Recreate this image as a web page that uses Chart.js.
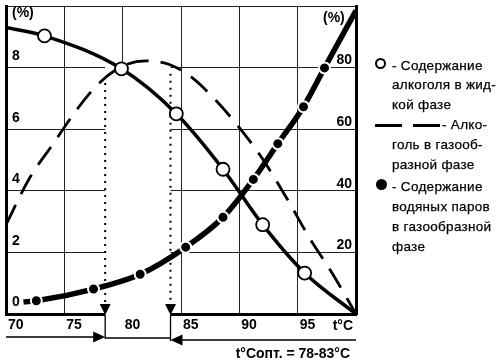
<!DOCTYPE html>
<html>
<head>
<meta charset="utf-8">
<script src="https://cdn.jsdelivr.net/npm/chart.js@4.4.1/dist/chart.umd.min.js"></script>
<style>
  body { margin: 0; background: #fff; }
  #wrap { position: relative; width: 500px; height: 363px; }
  #wrap canvas { position: absolute; left: 0; top: 0; }
  .t { position: absolute; font-family: "Liberation Sans", Arial, sans-serif; font-size: 13.5px; line-height: 20px; color: #000; white-space: nowrap; letter-spacing: 0.3px; -webkit-text-stroke: 0.25px #000; }
  .b { font-weight: bold; font-size: 14px; letter-spacing: 0; -webkit-text-stroke: 0; }
  .sym { position: absolute; box-sizing: border-box; }
</style>
</head>
<body>
<div id="wrap">
  <canvas id="grafico" width="500" height="363"></canvas>

  <div class="t b" style="left:12px;top:2px">(%)</div>
  <div class="t b" style="left:323px;top:7px">(%)</div>
  <div class="t b" style="right:147px;top:315px">t°C</div>
  <div class="t b" style="right:150px;top:343px">t°Сопт. = 78-83°С</div>

  <span class="sym" style="left:375px;top:58px;width:11px;height:11px;border:2px solid #000;border-radius:50%"></span>
  <div class="t" style="left:392px;top:56px">- Содержание</div>
  <div class="t" style="left:392px;top:75px">алкоголя в жид-</div>
  <div class="t" style="left:392px;top:95px">кой фазе</div>

  <span class="sym" style="left:375px;top:124px;width:27px;height:3px;background:#000"></span>
  <span class="sym" style="left:413px;top:124px;width:27px;height:3px;background:#000"></span>
  <div class="t" style="left:442px;top:115px">- Алко-</div>
  <div class="t" style="left:392px;top:135px">голь в газооб-</div>
  <div class="t" style="left:392px;top:155px">разной фазе</div>

  <span class="sym" style="left:376px;top:179px;width:11px;height:11px;background:#000;border-radius:50%"></span>
  <div class="t" style="left:392px;top:177px">- Содержание</div>
  <div class="t" style="left:392px;top:197px">водяных паров</div>
  <div class="t" style="left:392px;top:217px">в газообразной</div>
  <div class="t" style="left:392px;top:237px">фазе</div>
</div>

<script>
// температура, °C
const tMin = 70;
const tMax = 100;

// алкоголь в жидкой фазе (%, левая шкала)
const liquidT = [70, 73.3, 79.9, 84.6, 88.6, 92.0, 95.6, 100];
const liquidPct = [9.3, 9.03, 7.96, 6.5, 4.7, 2.9, 1.33, 0];

// алкоголь в газообразной фазе (%, левая шкала)
const gasT = [70, 72, 74, 76, 78, 80, 82, 84, 86, 88, 90, 92, 94, 96, 98, 100];
const gasPct = [2.9, 4.4, 5.5, 6.6, 7.5, 8.05, 8.22, 8.1, 7.66, 6.93, 6.05, 5.03, 3.8, 2.48, 1.3, 0];

// водяные пары в газообразной фазе (%, правая шкала)
const vaporT = [71.5, 72.6, 77.5, 81.5, 85.4, 88.6, 91.2, 93.3, 95.5, 97.3, 100];
const vaporPct = [3.9, 4.3, 8.1, 12.9, 21.7, 31.4, 43.7, 55.3, 67.3, 79.9, 98.5];

// оптимальная зона
const tOptLow = 78.5;
const tOptHigh = 84.1;
const optTopLow = 7.5;
const optTopHigh = 7.8;

const toPoints = (xs, ys) => xs.map((x, i) => ({ x: x, y: ys[i] }));
const edgeRadius = (len, r) => (ctx) => (ctx.dataIndex === 0 || ctx.dataIndex === len - 1 ? 0 : r);

const tickFont = { family: "Liberation Sans", size: 14, weight: "bold" };

function fixScale(w, h) {
  return (scale) => {
    if (w !== null) scale.width = w;
    if (h !== null) scale.height = h;
    scale.paddingTop = 0;
    scale.paddingBottom = 0;
    scale.paddingLeft = 0;
    scale.paddingRight = 0;
  };
}

const zonaPlugin = {
  id: "zona",
  beforeDatasetsDraw(chart) {
    const { ctx, chartArea, scales } = chart;
    const x1 = scales.x.getPixelForValue(tOptLow);
    const x2 = scales.x.getPixelForValue(tOptHigh);
    const yTop = scales.y.getPixelForValue(8) - 1.5;
    const yb = chartArea.bottom;

    ctx.save();
    ctx.fillStyle = "#fff";
    ctx.fillRect(x1, yTop, x2 - x1, yb + 4 - yTop);

    // пунктир
    ctx.strokeStyle = "#000";
    ctx.lineWidth = 2;
    ctx.setLineDash([2, 5]);
    ctx.beginPath();
    ctx.moveTo(x1, scales.y.getPixelForValue(optTopLow));
    ctx.lineTo(x1, yb - 10);
    ctx.moveTo(x2, scales.y.getPixelForValue(optTopHigh));
    ctx.lineTo(x2, yb - 10);
    ctx.stroke();
    ctx.setLineDash([]);

    // треугольники
    ctx.fillStyle = "#000";
    [x1, x2].forEach((x) => {
      ctx.beginPath();
      ctx.moveTo(x - 5.5, yb - 10);
      ctx.lineTo(x + 5.5, yb - 10);
      ctx.lineTo(x, yb + 1);
      ctx.closePath();
      ctx.fill();
    });
    ctx.restore();
  },
  afterDraw(chart) {
    const { ctx, chartArea, scales } = chart;
    const x1 = scales.x.getPixelForValue(tOptLow);
    const x2 = scales.x.getPixelForValue(tOptHigh);
    const yb = chartArea.bottom;

    ctx.save();
    ctx.strokeStyle = "#000";
    ctx.fillStyle = "#000";
    ctx.lineWidth = 1.3;
    ctx.beginPath();
    ctx.moveTo(x1, yb + 1);
    ctx.lineTo(x1, yb + 24);
    ctx.lineTo(x2, yb + 24);
    ctx.moveTo(x2, yb + 1);
    ctx.lineTo(x2, yb + 27);
    ctx.moveTo(chartArea.left, yb + 23);
    ctx.lineTo(x1 - 10, yb + 23);
    ctx.moveTo(chartArea.right, yb + 26);
    ctx.lineTo(x2 + 10, yb + 26);
    ctx.stroke();

    ctx.beginPath();
    ctx.moveTo(x1, yb + 23);
    ctx.lineTo(x1 - 12, yb + 17.5);
    ctx.lineTo(x1 - 12, yb + 28.5);
    ctx.closePath();
    ctx.fill();

    ctx.beginPath();
    ctx.moveTo(x2, yb + 26);
    ctx.lineTo(x2 + 12, yb + 20.5);
    ctx.lineTo(x2 + 12, yb + 31.5);
    ctx.closePath();
    ctx.fill();
    ctx.restore();
  },
};

const ctx = document.getElementById("grafico");

new Chart(ctx, {
  type: "line",
  data: {
    datasets: [
      {
        label: "Содержание алкоголя в жидкой фазе",
        data: toPoints(liquidT, liquidPct),
        yAxisID: "y",
        borderColor: "#000",
        borderWidth: 3.5,
        pointRadius: edgeRadius(liquidT.length, 6.5),
        pointBackgroundColor: "#fff",
        pointBorderColor: "#000",
        pointBorderWidth: 1.8,
        cubicInterpolationMode: "monotone",
        fill: false,
      },
      {
        label: "Алкоголь в газообразной фазе",
        data: toPoints(gasT, gasPct),
        yAxisID: "y",
        borderColor: "#000",
        borderWidth: 2.8,
        borderDash: [22, 12],
        pointRadius: 0,
        cubicInterpolationMode: "monotone",
        fill: false,
      },
      {
        label: "Содержание водяных паров в газообразной фазе",
        data: toPoints(vaporT, vaporPct),
        yAxisID: "y1",
        borderColor: "#000",
        borderWidth: 5.5,
        pointRadius: edgeRadius(vaporT.length, 5.5),
        pointBackgroundColor: "#000",
        pointBorderColor: "#fff",
        pointBorderWidth: 2,
        cubicInterpolationMode: "monotone",
        fill: false,
      },
    ],
  },
  options: {
    responsive: false,
    animation: false,
    devicePixelRatio: 1,
    layout: { padding: { left: 6, right: 144, top: 6, bottom: 0 } },
    plugins: { legend: { display: false }, tooltip: { enabled: false } },
    scales: {
      x: {
        type: "linear",
        min: tMin,
        max: tMax,
        afterFit: fixScale(null, 49),
        grid: { color: "#222", lineWidth: 1, drawTicks: false },
        border: { display: true, color: "#000", width: 3 },
        ticks: {
          stepSize: 5,
          autoSkip: false,
          maxRotation: 0,
          align: "start",
          labelOffset: 2,
          padding: 3,
          color: "#000",
          font: tickFont,
          callback: (v) => (v === tMax ? "" : v),
        },
      },
      y: {
        position: "left",
        min: 0,
        max: 10,
        afterFit: fixScale(0, null),
        grid: { color: "#222", lineWidth: 1, drawTicks: false },
        border: { display: true, color: "#000", width: 3 },
        ticks: {
          stepSize: 2,
          mirror: true,
          padding: 6,
          labelOffset: -11.5,
          color: "#000",
          font: tickFont,
          callback: (v) => (v === 10 ? "" : v),
        },
      },
      y1: {
        position: "right",
        min: 0,
        max: 100,
        afterFit: fixScale(0, null),
        grid: { display: false, drawTicks: false },
        border: { display: true, color: "#000", width: 3 },
        ticks: {
          stepSize: 20,
          mirror: true,
          padding: -4,
          labelOffset: -7,
          color: "#000",
          font: tickFont,
          callback: (v) => (v === 0 || v === 100 ? "" : v),
        },
      },
    },
  },
  plugins: [zonaPlugin],
});
</script>
</body>
</html>
